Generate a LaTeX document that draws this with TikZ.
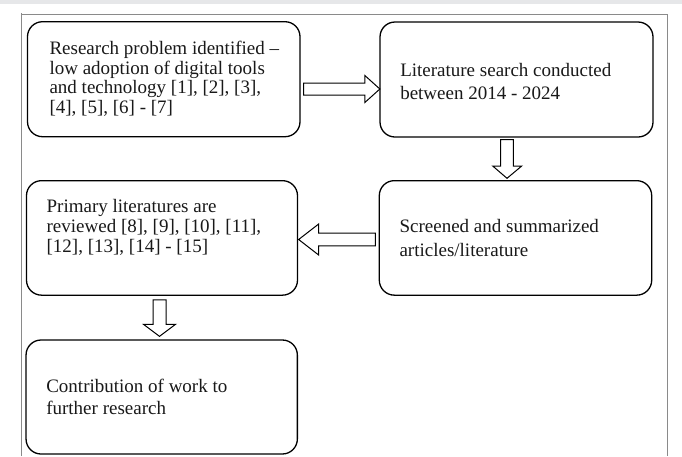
\documentclass[tikz,border=0pt]{standalone}
\usepackage{fontspec}
\setmainfont{Liberation Serif}
\usetikzlibrary{calc}
\definecolor{bandgray}{HTML}{E6E7E9}
\definecolor{framegray}{HTML}{8A8A8A}
\tikzset{
  stepbox/.style={draw=black, line width=1.3pt, rounded corners=15pt, fill=white,
    inner sep=0pt, minimum width=272pt, minimum height=114.5pt},
  % anchored at the baseline of the last line of each text
  steptext/.style={anchor=base west, inner sep=0pt, align=left, text=black!90},
  blockarrow/.style={draw=black, line width=1pt, fill=white, line join=miter},
}
\begin{document}
\begin{tikzpicture}[x=1pt, y=-1pt]
\useasboundingbox (0,0) rectangle (682,456);
\fill[white] (0,0) rectangle (682,456);
% page band and frame
\fill[bandgray] (0,0) rectangle (682,4.3);
\draw[framegray, line width=0.9pt] (21,456) -- (21,12.5);
\draw[framegray, line width=0.9pt] (21,14) -- (667,14) -- (667,456);

% process steps
\node[stepbox, minimum width=272.5pt, minimum height=115pt] (b1) at (163.75,79.2) {};
\node[stepbox, minimum width=273pt, minimum height=115pt] (b2) at (516.5,79.5) {};
\node[stepbox, minimum width=272.4pt] (b3) at (515.5,237.9) {};
\node[stepbox, minimum width=271pt] (b4) at (162,237.9) {};
\node[stepbox, minimum width=271.3pt, minimum height=114pt] (b5) at (161.7,397) {};

% step texts
\node[steptext, font=\fontsize{19}{19.7}\selectfont] (t1) at ($(b1.north west)+(22.5,92.6)$)
  {Research problem identified –\\low adoption of digital tools\\and technology [1], [2], [3],\\[0pt][4], [5], [6] - [7]};
\node[steptext, font=\fontsize{19}{23.3}\selectfont] (t2) at ($(b2.north west)+(20.7,78)$)
  {Literature search conducted\\between 2014 - 2024};
\node[steptext, font=\fontsize{19}{23.3}\selectfont] (t3) at ($(b3.north west)+(20.7,76)$)
  {Screened and summarized\\articles/literature};
\node[steptext, font=\fontsize{19}{20}\selectfont] (t4) at ($(b4.north west)+(20.6,72.6)$)
  {Primary literatures are\\reviewed [8], [9], [10], [11],\\[0pt][12], [13], [14] - [15]};
\node[steptext, font=\fontsize{19}{22.3}\selectfont] (t5) at ($(b5.north west)+(20.7,75)$)
  {Contribution of work to\\further research};

% block arrows between the steps
\draw[blockarrow] ($(b1.east)+(3,3.8)$) -- ($(b2.west)+(-14.5,3.5)$) -- ($(b2.west)+(-14.5,-4)$)
  -- ($(b2.west)+(0.5,9.5)$) -- ($(b2.west)+(-14.5,23)$) -- ($(b2.west)+(-14.5,15.5)$)
  -- ($(b1.east)+(3,15.8)$) -- cycle;
\draw[blockarrow] ($(b2.south)+(-15.8,2)$) -- ($(b3.north)+(-14.8,-14)$) -- ($(b3.north)+(-22.8,-14)$)
  -- ($(b3.north)+(-8.5,-1.7)$) -- ($(b3.north)+(6.2,-14)$) -- ($(b3.north)+(-2.2,-14)$)
  -- ($(b2.south)+(-3.2,2)$) -- cycle;
\draw[blockarrow] ($(b3.west)+(-3.3,-4.7)$) -- ($(b4.east)+(20.5,-4.7)$) -- ($(b4.east)+(20.5,-13.9)$)
  -- ($(b4.east)+(0.5,1.6)$) -- ($(b4.east)+(20.5,17.1)$) -- ($(b4.east)+(20.5,7.9)$)
  -- ($(b3.west)+(-3.3,7.9)$) -- cycle;
\draw[blockarrow] ($(b4.south)+(-9,4)$) -- ($(b5.north)+(-8.7,-15)$) -- ($(b5.north)+(-18.2,-15)$)
  -- ($(b5.north)+(-2.2,-3)$) -- ($(b5.north)+(13.8,-15)$) -- ($(b5.north)+(4.3,-15)$)
  -- ($(b4.south)+(4,4)$) -- cycle;
\end{tikzpicture}
\end{document}
